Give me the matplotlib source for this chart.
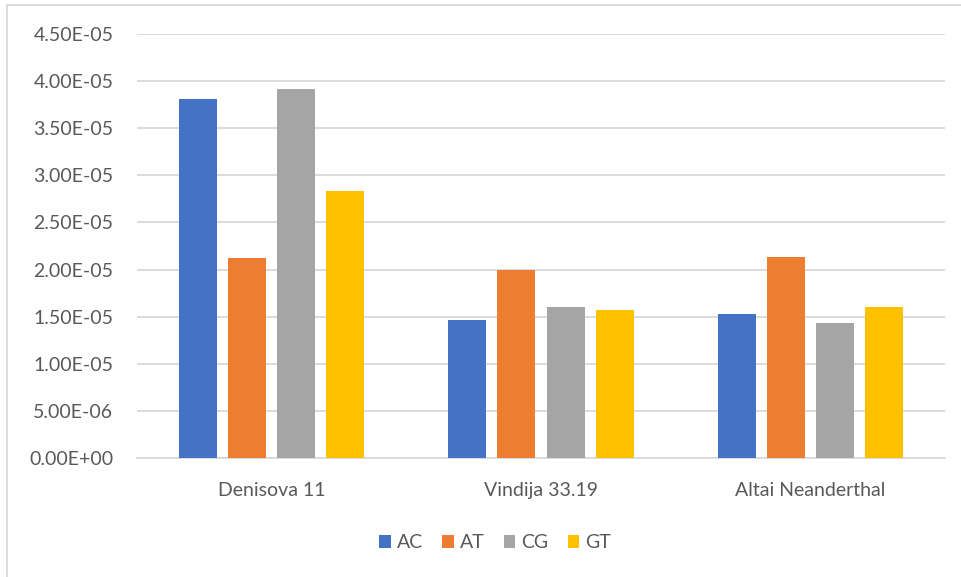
import numpy as np
import matplotlib.pyplot as plt
from matplotlib.lines import Line2D

categories = ['Denisova 11', 'Vindija 33.19', 'Altai Neanderthal']
series = ['AC', 'AT', 'CG', 'GT']
AC = [3.81e-05, 1.46e-05, 1.53e-05]
AT = [2.12e-05, 1.99e-05, 2.13e-05]
CG = [3.92e-05, 1.60e-05, 1.43e-05]
GT = [2.83e-05, 1.57e-05, 1.60e-05]
colors = ['#4472C4', '#ED7D31', '#A5A5A5', '#FFC000']
yticks = np.arange(0, 4.51e-05, 5e-06)

plt.rcParams['font.family'] = ['Lato', 'DejaVu Sans']

fig = plt.figure(figsize=(9.61, 5.77), dpi=100)
ax = fig.add_axes([137/961, 1 - 458/577, (945-137)/961, (458-34)/577])

x = np.arange(len(categories))
step = 49 / 269.3
width = 38 / 269.3
for i, (name, vals) in enumerate(zip(series, [AC, AT, CG, GT])):
    ax.bar(x + (i - 1.5) * step, vals, width, color=colors[i], label=name, zorder=3)

ax.set_xlim(-0.5, 2.5)
ax.set_ylim(0, 4.5e-05)
ax.set_yticks(yticks)
ax.set_yticklabels(['%.2E' % v for v in yticks])
ax.set_xticks(x)
ax.set_xticklabels(categories)
ax.grid(axis='y', color='#d9d9d9', linewidth=1.3, zorder=0)
for s in ['top', 'right', 'left']:
    ax.spines[s].set_visible(False)
ax.spines['bottom'].set_color('#d9d9d9')
ax.spines['bottom'].set_linewidth(1.3)
ax.tick_params(axis='both', length=0, colors='#595959', labelsize=14)
ax.tick_params(axis='y', pad=17)
ax.tick_params(axis='x', pad=17)

ax.legend(loc='center', bbox_to_anchor=(495/961, 1 - 543/577), bbox_transform=fig.transFigure,
          ncol=4, frameon=False, handlelength=0.6, handleheight=0.6, handletextpad=0.3,
          columnspacing=1.0, fontsize=14, labelcolor='#595959')

# chart border (cropped on right and bottom)
fig.add_artist(Line2D([7/961, 1], [1 - 5/577] * 2, color='#d9d9d9', lw=1.3))
fig.add_artist(Line2D([7/961] * 2, [0, 1 - 5/577], color='#d9d9d9', lw=1.3))

fig.savefig('out.png', dpi=100)
